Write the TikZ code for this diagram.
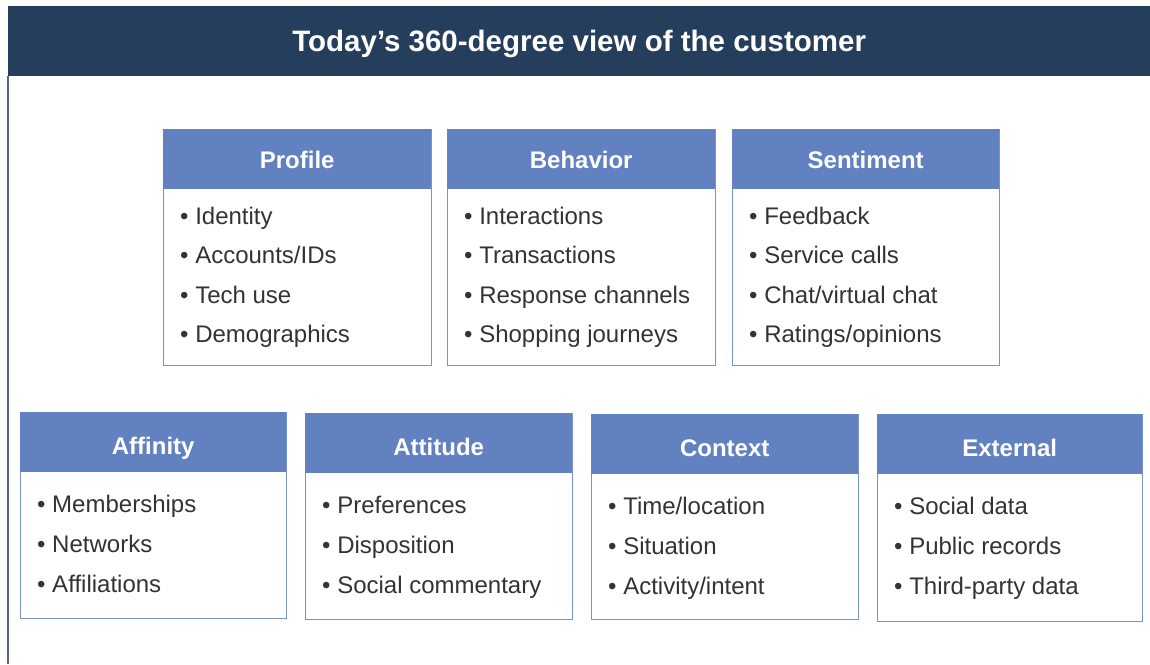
\documentclass[tikz,border=0pt]{standalone}
\usepackage{fontspec}
\setmainfont{Liberation Sans}
\usetikzlibrary{calc}

\definecolor{navy}{HTML}{253E5C}
\definecolor{headblue}{HTML}{6181C0}
\definecolor{edgeblue}{HTML}{7793CD}
\definecolor{ink}{HTML}{333333}
\definecolor{railgray}{HTML}{55657F}

\tikzset{
  titlebar/.style={fill=navy, draw=none, inner sep=0, minimum width=1142, minimum height=70,
    text height=21pt, text depth=0pt,
    text=white, font=\fontsize{29.5}{34}\selectfont\bfseries},
  cardbody/.style={draw=edgeblue, line width=1.4pt, fill=white, inner sep=0},
  cardhead/.style={fill=headblue, draw=none, inner sep=0, minimum height=60,
    text height=18pt, text depth=0pt,
    text=white, font=\fontsize{24}{28}\selectfont\bfseries},
  itemtext/.style={inner sep=0, text=ink, font=\fontsize{24}{28}\selectfont},
}

% \card{name}{x}{y}{width}{height}{title}{first baseline gap}{line step}{items}
\newcommand\card[9]{%
  \node[cardbody, minimum width=#4, minimum height=#5, anchor=north west] (#1) at (#2,#3) {};
  \node[cardhead, minimum width=#4, anchor=north west] (#1-h) at (#2,#3) {#6};
  \foreach \entry [count=\k] in {#9}
    \node[itemtext, anchor=base west] (#1-\k) at ($(#1-h.south west)+(17,{#7+#8*(\k-1)})$) {\textbullet\ \entry};
}

\begin{document}
\begin{tikzpicture}[x=1pt,y=-1pt]
  \useasboundingbox (0,0) rectangle (1150,664);
  \fill[white] (0,0) rectangle (1150,664);

  % heading band and left rule
  \node[titlebar, anchor=north west] (title) at (8,6) {Today’s 360-degree view of the customer};
  \coordinate (railend) at (8,664);
  \draw[railgray, line width=1.6pt] (title.south west) -- (railend);

  % upper row
  \card{profile}{163}{129}{268}{236}{Profile}{35}{39.3}{Identity,Accounts/IDs,Tech use,Demographics}
  \card{behavior}{447}{129}{268}{236}{Behavior}{35}{39.3}{Interactions,Transactions,Response channels,Shopping journeys}
  \card{sentiment}{732}{129}{267}{236}{Sentiment}{35}{39.3}{Feedback,Service calls,Chat/virtual chat,Ratings/opinions}

  % lower row, titles sit a little lower in their bands
  \begin{scope}[cardhead/.append style={text height=24pt}]
    \card{affinity}{20}{412}{266}{206}{Affinity}{40}{40}{Memberships,Networks,Affiliations}
    \card{attitude}{305}{413}{267}{206}{Attitude}{40}{40}{Preferences,Disposition,Social commentary}
    \card{context}{591}{414}{267}{205}{Context}{40}{40}{Time/location,Situation,Activity/intent}
    \card{external}{877}{414}{265}{207}{External}{40}{40}{Social data,Public records,Third-party data}
  \end{scope}
\end{tikzpicture}
\end{document}
